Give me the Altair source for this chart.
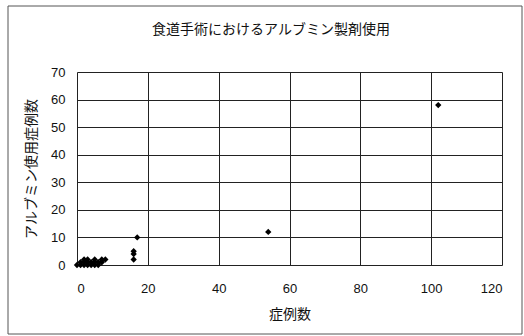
import altair as alt
import pandas as pd

# data
cases = [0, 1, 1, 2, 2, 2, 3, 3, 3, 4, 4, 5, 5, 5, 6, 6, 7, 7, 8, 16, 16, 16, 17, 54, 102]
albumin = [0, 0, 1, 0, 1, 2, 0, 1, 2, 1, 0, 0, 1, 2, 1, 0, 1, 2, 2, 2, 4, 5, 10, 12, 58]

x_ticks = [0, 20, 40, 60, 80, 100, 120]
y_ticks = [0, 10, 20, 30, 40, 50, 60, 70]

title_text = "食道手術におけるアルブミン製剤使用"
x_title = "症例数"
y_title = "アルブミン使用症例数"

df = pd.DataFrame({"cases": cases, "albumin": albumin})
FONT = "Liberation Sans"
JFONT = "Noto Sans CJK JP"

W, H = 425, 193
LEFT, TOP = 77, 72

points = alt.Chart(df).mark_point(
    shape="diamond", filled=True, color="black", size=40, opacity=1
).encode(
    x=alt.X("cases:Q", scale=alt.Scale(domain=[0, 120], nice=False),
            axis=alt.Axis(values=x_ticks, title=x_title, grid=True, gridColor="#222",
                          gridWidth=1, domain=False, ticks=False, labelFont=FONT,
                          labelFontSize=13, labelColor="#111", labelPadding=17,
                          titleFont=JFONT, titleFontSize=14, titleFontWeight="normal",
                          titleColor="#111", titlePadding=12)),
    y=alt.Y("albumin:Q", scale=alt.Scale(domain=[0, 70], nice=False),
            axis=alt.Axis(values=y_ticks, title=y_title, grid=True, gridColor="#222",
                          gridWidth=1, domain=False, ticks=False, labelFont=FONT,
                          labelFontSize=13, labelColor="#111", labelPadding=12,
                          titleFont=JFONT, titleFontSize=14, titleFontWeight="normal",
                          titleColor="#111", titlePadding=12)),
)

frame = alt.Chart(pd.DataFrame({"a": [0]})).mark_rect(
    fill=None, stroke="#555", strokeWidth=1, clip=False
).encode(
    x=alt.value(8 - LEFT), x2=alt.value(522 - LEFT),
    y=alt.value(6 - TOP), y2=alt.value(334 - TOP),
)

title = alt.Chart(pd.DataFrame({"t": [title_text]})).mark_text(
    font=JFONT, fontSize=14, color="#111", align="center", baseline="middle"
).encode(
    text="t:N",
    x=alt.value(271 - LEFT), y=alt.value(30 - TOP),
)

chart = alt.layer(frame, points, title).properties(
    width=W, height=H,
    autosize=alt.AutoSizeParams(type="none"),
    padding={"left": LEFT, "top": TOP, "right": 524 - LEFT - W, "bottom": 336 - TOP - H},
).configure_view(
    fill="#e8e8e8", stroke="#111", strokeWidth=1.2
).configure(background="white")

chart.save("out.html", embed_options={"renderer": "svg", "actions": False})
